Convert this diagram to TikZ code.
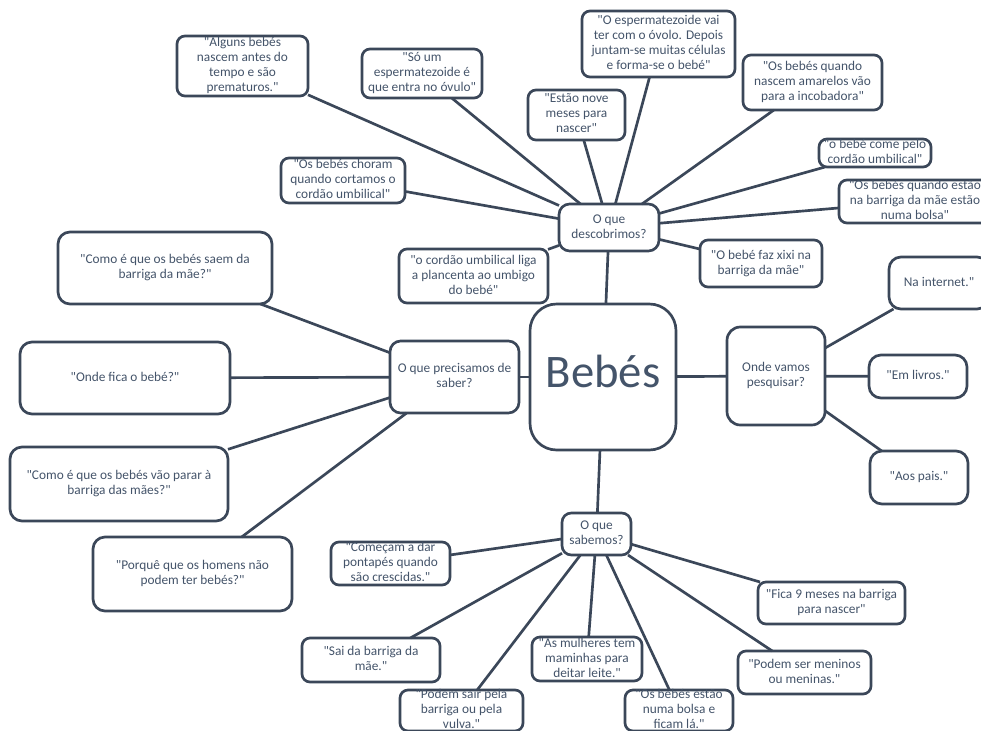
\documentclass[tikz,border=0pt]{standalone}
\usepackage{fontspec}
\setmainfont{Carlito}[Ligatures=TeXOff]
\definecolor{ln}{RGB}{59,71,89}
\definecolor{tx}{RGB}{68,84,106}
\newcommand{\ctext}[1]{\hbox to 0pt{\hss\vbox to 0pt{\vss\hbox{\begin{tabular}{@{}c@{}}#1\end{tabular}}\vss}\hss}}
\newcommand{\bx}[7][]{\node[box,#1,minimum width={(#5-#3)*0.75pt},minimum height={(#6-#4)*0.75pt}] (#2) at ({(#3+#5)/2},{(#4+#6)/2}) {\ctext{#7}};}
\begin{document}
\begin{tikzpicture}[x=0.75pt,y=-0.75pt,
  box/.style={draw=ln, line width=2pt, rounded corners=6pt, inner sep=0pt, outer sep=0pt, text=tx, font=\fontsize{10}{11.25}\selectfont},
  big/.style={rounded corners=9pt},
  link/.style={draw=ln, line width=2pt}]
\useasboundingbox (0,0) rectangle (981,731);
\fill[white] (0,0) rectangle (981,731);
\clip (0,0) rectangle (981,731);
% hubs
\bx[rounded corners=20pt, font=\fontsize{35}{40}\selectfont]{bebes}{530}{304}{676}{450}{Bebés}
\bx[rounded corners=8pt]{desc}{559}{204}{659}{251}{O que\\descobrimos?}
\bx[rounded corners=8pt]{prec}{390}{341}{519}{413}{O que precisamos de\\saber?}
\bx[rounded corners=10pt]{onde}{727}{327}{825}{425}{Onde vamos\\pesquisar?}
\bx[rounded corners=7pt]{sab}{562}{513}{631}{555}{O que\\sabemos?}
% descobrimos children
\bx{alg}{177}{36}{308}{96}{"Alguns bebés\\nascem antes do\\tempo e são\\prematuros."}
\bx{so}{362}{49}{482}{98}{"Só um\\espermatezoide é\\que entra no óvulo"}
\bx{chor}{281}{158}{405}{203}{"Os bebés choram\\quando cortamos o\\cordão umbilical"}
\bx{nove}{528}{90}{625}{140}{"Estão nove\\meses para\\nascer"}
\bx{esp}{582}{11}{735}{77}{"O espermatezoide vai\\ter com o óvolo. Depois\\juntam-se muitas células\\e forma-se o bebé"}
\bx{amar}{743}{55}{882}{110}{"Os bebés quando\\nascem amarelos vão\\para a incobadora"}
\bx{come}{819}{139}{931}{167}{"o bebé come pelo\\cordão umbilical"}
\bx{bolsa}{839}{180}{991}{223}{"Os bebés quando estão\\na barriga da mãe estão\\numa bolsa"}
\bx{xixi}{700}{240}{822}{287}{"O bebé faz xixi na\\barriga da mãe"}
\bx{cord}{399}{249}{548}{303}{"o cordão umbilical liga\\a plancenta ao umbigo\\do bebé"}
% precisamos children
\bx[big]{saem}{58}{232}{272}{304}{"Como é que os bebés saem da\\barriga da mãe?"}
\bx[big]{fica}{20}{342}{230}{414}{"Onde fica o bebé?"}
\bx[big]{parar}{10}{447}{228}{521}{"Como é que os bebés vão parar à\\barriga das mães?"}
\bx[big]{homens}{93}{537}{292}{611}{"Porquê que os homens não\\podem ter bebés?"}
% onde vamos children
\bx[big]{net}{889}{257}{989}{309}{Na internet."}
\bx[big]{livros}{869}{355}{967}{398}{"Em livros."}
\bx[big]{pais}{870}{451}{968}{504}{"Aos pais."}
% sabemos children
\bx{comec}{331}{542}{450}{585}{"Começam a dar\\pontapés quando\\são crescidas."}
\bx{fica9}{758}{582}{905}{624}{"Fica 9 meses na barriga\\para nascer"}
\bx{sai}{302}{638}{440}{682}{"Sai da barriga da\\mãe."}
\bx{podsair}{400}{690}{523}{731}{"Podem sair pela\\barriga ou pela\\vulva."}
\bx{mulh}{532}{637}{642}{681}{"As mulheres tem\\maminhas para\\deitar leite."}
\bx{estao}{625}{690}{733}{731}{"Os bebés estão\\numa bolsa e\\ficam lá."}
\bx{meninos}{738}{651}{871}{694}{"Podem ser meninos\\ou meninas."}
% connectors
\foreach \c in {desc,prec,onde,sab} \draw[link] (bebes) -- (\c);
\foreach \c in {alg,so,chor,nove,esp,amar,come,bolsa,xixi,cord} \draw[link] (desc) -- (\c);
\foreach \c in {saem,fica,parar,homens} \draw[link] (prec) -- (\c);
\foreach \c in {net,livros,pais} \draw[link] (onde) -- (\c);
\foreach \c in {comec,fica9,sai,podsair,mulh,estao,meninos} \draw[link] (sab) -- (\c);
\end{tikzpicture}
\end{document}
